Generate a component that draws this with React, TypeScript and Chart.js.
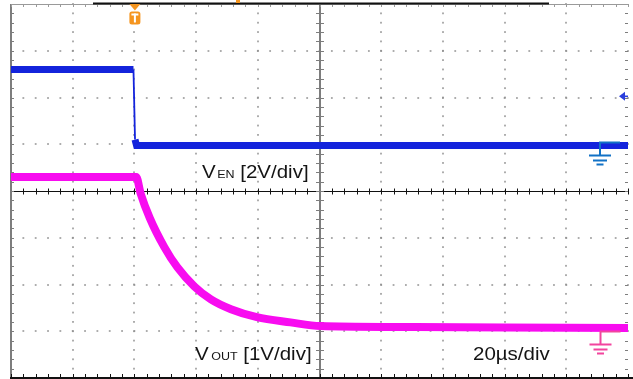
import React, { useEffect, useRef } from "react";
import { Chart, registerables } from "chart.js";

Chart.register(...registerables);

// ---- Data (time in µs relative to trigger, voltages in V) ----
const enTimeUs = [-40, -0.3, 0.2, 0.7, 160];
const enVolts = [3.2, 3.2, 0.2, -0.05, -0.05];

const outTimeUs = [-40, 0.6, 2, 5, 9.7, 13.9, 19.4, 24.8, 31.3, 39.7, 50.6, 60.3, 85, 120, 160];
const outVolts = [3.3, 3.3, 2.95, 2.42, 1.8, 1.37, 0.96, 0.68, 0.47, 0.3, 0.19, 0.11, 0.09, 0.08, 0.07];

// trigger level on EN channel (V)
const EN_TRIG_V = 2.05;

// channel settings (V/div, ground position in divisions)
const EN_VDIV = 2;
const EN_GND_DIV = 1;
const OUT_VDIV = 1;
const OUT_GND_DIV = -3;

// screen: 10 x 8 divisions, 20 µs/div
const T_MIN = -40;
const T_MAX = 160;
const T_DIV = 20;
const Y_MIN = -4;
const Y_MAX = 4;
const MINOR = 5;

const BLUE = "#1424DC";
const MAGENTA = "#F80CF0";
const BLUE_GND = "#1272C6";
const PINK_GND = "#F2449E";
const ORANGE = "#F5951F";
const FONT = '"Liberation Sans", Arial, sans-serif';

function drawParts(ctx: CanvasRenderingContext2D, x: number, base: number, parts: [string, number, number][]) {
  ctx.save();
  ctx.translate(x, base);
  ctx.scale(1, 0.9);
  ctx.fillStyle = "#141414";
  ctx.textBaseline = "alphabetic";
  ctx.textAlign = "left";
  let cx = 0;
  for (const [s, size, gap] of parts) {
    ctx.font = `${size}px ${FONT}`;
    ctx.fillText(s, cx, 0);
    cx += ctx.measureText(s).width + gap;
  }
  ctx.restore();
}

function drawGround(ctx: CanvasRenderingContext2D, cx: number, g: number, color: string, offs: number[]) {
  ctx.save();
  ctx.strokeStyle = color;
  ctx.lineWidth = 2;
  ctx.beginPath();
  ctx.moveTo(cx - 1, g);
  ctx.lineTo(cx + 20, g);
  ctx.moveTo(cx, g);
  ctx.lineTo(cx, g + offs[0]);
  ctx.moveTo(cx - 11, g + offs[0]);
  ctx.lineTo(cx + 11, g + offs[0]);
  ctx.moveTo(cx - 7, g + offs[1]);
  ctx.lineTo(cx + 7, g + offs[1]);
  ctx.moveTo(cx - 3.5, g + offs[2]);
  ctx.lineTo(cx + 3.5, g + offs[2]);
  ctx.stroke();
  ctx.restore();
}

const scopePlugin = {
  id: "scope",
  beforeDatasetsDraw(chart: any) {
    const { ctx, chartArea: a, scales } = chart;
    const xs = scales.x;
    const ys = scales.y;
    const tCenter = (T_MIN + T_MAX) / 2;
    ctx.save();
    // dotted major grid
    ctx.fillStyle = "#8a8a8a";
    for (let t = T_MIN + T_DIV; t < T_MAX - 0.01; t += T_DIV) {
      if (Math.abs(t - tCenter) < 0.01) continue;
      const px = Math.round(xs.getPixelForValue(t));
      for (let k = 0; k <= (Y_MAX - Y_MIN) * MINOR; k++) {
        const py = ys.getPixelForValue(Y_MIN + k / MINOR);
        ctx.fillRect(px - 0.7, py - 0.9, 1.4, 1.8);
      }
    }
    for (let v = Y_MIN + 1; v < Y_MAX; v++) {
      if (v === 0) continue;
      const py = Math.round(ys.getPixelForValue(v));
      for (let k = 0; k <= ((T_MAX - T_MIN) / T_DIV) * MINOR; k++) {
        const px = xs.getPixelForValue(T_MIN + (k * T_DIV) / MINOR);
        ctx.fillRect(px - 0.9, py - 0.7, 1.8, 1.4);
      }
    }
    // center horizontal line with ticks
    const y0 = Math.round(ys.getPixelForValue(0)) + 0.5;
    ctx.strokeStyle = "#111";
    ctx.lineWidth = 1;
    ctx.beginPath();
    ctx.moveTo(a.left, y0);
    ctx.lineTo(a.right, y0);
    for (let k = 0; k <= ((T_MAX - T_MIN) / T_DIV) * MINOR; k++) {
      const px = Math.round(xs.getPixelForValue(T_MIN + (k * T_DIV) / MINOR)) + 0.5;
      ctx.moveTo(px, y0 - 3);
      ctx.lineTo(px, y0 + 3);
    }
    ctx.stroke();
    // center vertical line with ticks
    const xc = Math.round(xs.getPixelForValue(tCenter));
    ctx.strokeStyle = "#7d7d7d";
    ctx.lineWidth = 2;
    ctx.beginPath();
    ctx.moveTo(xc, a.top);
    ctx.lineTo(xc, a.bottom);
    ctx.stroke();
    ctx.lineWidth = 1;
    ctx.beginPath();
    for (let k = 0; k <= (Y_MAX - Y_MIN) * MINOR; k++) {
      const py = Math.round(ys.getPixelForValue(Y_MIN + k / MINOR)) + 0.5;
      ctx.moveTo(xc - 4, py);
      ctx.lineTo(xc + 4, py);
    }
    ctx.stroke();
    // left border
    ctx.strokeStyle = "#7d7d7d";
    ctx.lineWidth = 2;
    ctx.beginPath();
    ctx.moveTo(a.left, a.top);
    ctx.lineTo(a.left, a.bottom);
    ctx.stroke();
    ctx.lineWidth = 1;
    ctx.beginPath();
    for (let k = 0; k <= (Y_MAX - Y_MIN) * MINOR; k++) {
      const py = Math.round(ys.getPixelForValue(Y_MIN + k / MINOR)) + 0.5;
      ctx.moveTo(a.left, py);
      ctx.lineTo(a.left + 3, py);
      ctx.moveTo(a.right - 3, py);
      ctx.lineTo(a.right, py);
    }
    ctx.stroke();
    // top border
    ctx.strokeStyle = "#9a9a9a";
    ctx.beginPath();
    ctx.moveTo(a.left, a.top + 0.5);
    ctx.lineTo(a.right, a.top + 0.5);
    for (let k = 0; k <= ((T_MAX - T_MIN) / T_DIV) * MINOR; k++) {
      const px = Math.round(xs.getPixelForValue(T_MIN + (k * T_DIV) / MINOR)) + 0.5;
      ctx.moveTo(px, a.top);
      ctx.lineTo(px, a.top + 3);
    }
    ctx.stroke();
    ctx.fillStyle = "#111";
    ctx.fillRect(93, a.top - 1.5, 456, 2);
    // bottom border
    ctx.strokeStyle = "#111";
    ctx.beginPath();
    for (let k = 0; k <= ((T_MAX - T_MIN) / T_DIV) * MINOR; k++) {
      const px = Math.round(xs.getPixelForValue(T_MIN + (k * T_DIV) / MINOR)) + 0.5;
      ctx.moveTo(px, a.bottom - 4);
      ctx.lineTo(px, a.bottom);
    }
    ctx.stroke();
    ctx.fillRect(a.left - 1, a.bottom - 1, a.right - a.left + 6, 3);
    ctx.restore();
  },
  afterDatasetsDraw(chart: any) {
    const { ctx, scales, chartArea: a } = chart;
    const xs = scales.x;
    const ys = scales.y;
    ctx.save();
    // trigger marker
    const tx = xs.getPixelForValue(0) + 0.5;
    ctx.fillStyle = ORANGE;
    ctx.beginPath();
    ctx.moveTo(tx - 5.5, a.top);
    ctx.lineTo(tx + 5.5, a.top);
    ctx.lineTo(tx, a.top + 6.5);
    ctx.closePath();
    ctx.fill();
    ctx.beginPath();
    (ctx as any).roundRect(tx - 5.5, a.top + 7.5, 11, 13, 2.5);
    ctx.fill();
    ctx.fillStyle = "#fff";
    ctx.fillRect(tx - 3.5, a.top + 9.5, 7, 2);
    ctx.fillRect(tx - 1, a.top + 9.5, 2, 9);
    ctx.fillStyle = ORANGE;
    ctx.fillRect(236, 0, 4, 3);
    // trigger level arrow (EN channel)
    const ty = ys.getPixelForValue(EN_GND_DIV + EN_TRIG_V / EN_VDIV);
    ctx.fillStyle = "#2a3edc";
    ctx.beginPath();
    ctx.moveTo(a.right - 9, ty);
    ctx.lineTo(a.right - 3, ty - 4.5);
    ctx.lineTo(a.right - 3, ty + 4.5);
    ctx.closePath();
    ctx.fill();
    ctx.fillRect(a.right - 4, ty - 0.8, 4, 1.6);
    // ground markers
    drawGround(ctx, 600, Math.round(ys.getPixelForValue(EN_GND_DIV)) - 1.5, BLUE_GND, [13, 18, 22]);
    drawGround(ctx, 600.5, Math.round(ys.getPixelForValue(OUT_GND_DIV)) + 0.5, PINK_GND, [13, 18, 22]);
    // labels
    drawParts(ctx, 202, 178, [["V", 20.5, 1.5], ["EN", 12.5, 0], [" [2V/div]", 20.5, 0]]);
    drawParts(ctx, 195, 359.5, [["V", 20.5, 2.5], ["OUT", 12.5, 0], [" [1V/div]", 20.5, 0]]);
    drawParts(ctx, 473, 359.5, [["20µs/div", 20.5, 0]]);
    ctx.restore();
  },
};

export default function App() {
  const ref = useRef<HTMLCanvasElement | null>(null);
  useEffect(() => {
    if (!ref.current) return;
    const enData = enTimeUs.map((t, i) => ({ x: t, y: EN_GND_DIV + enVolts[i] / EN_VDIV }));
    const outData = outTimeUs.map((t, i) => ({ x: t, y: OUT_GND_DIV + outVolts[i] / OUT_VDIV }));
    const chart = new Chart(ref.current, {
      type: "line",
      data: {
        datasets: [
          {
            label: "VOUT",
            data: outData,
            borderColor: MAGENTA,
            borderWidth: 8,
            pointRadius: 0,
            cubicInterpolationMode: "monotone",
            fill: false,
          },
          {
            label: "VEN",
            data: enData,
            borderColor: BLUE,
            borderWidth: 7,
            pointRadius: 0,
            tension: 0,
            fill: false,
            segment: {
              borderWidth: (c: any) =>
                Math.abs(c.p0.parsed.y - c.p1.parsed.y) > 0.3 ? 1.8 : 7,
            },
          },
        ],
      },
      options: {
        animation: false,
        responsive: false,
        maintainAspectRatio: false,
        layout: { padding: { left: 11, right: 5, top: 4, bottom: 1 } },
        scales: {
          x: { type: "linear", min: T_MIN, max: T_MAX, display: false },
          y: { type: "linear", min: Y_MIN, max: Y_MAX, display: false },
        },
        plugins: { legend: { display: false }, tooltip: { enabled: false }, title: { display: false } },
      },
      plugins: [scopePlugin],
    } as any);
    return () => chart.destroy();
  }, []);
  return (
    <div style={{ position: "fixed", left: 0, top: 0, width: 633, height: 379, background: "#fff" }}>
      <canvas ref={ref} width={633} height={379} style={{ display: "block" }} />
    </div>
  );
}
